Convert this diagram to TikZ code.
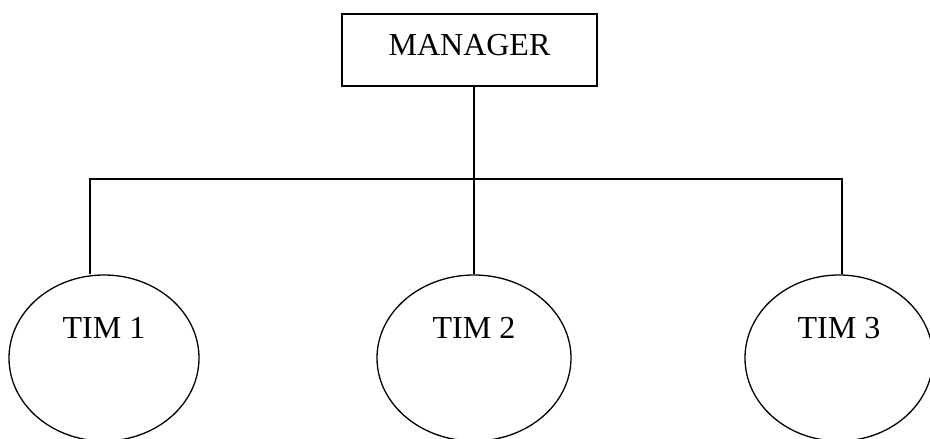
\documentclass[tikz,border=0pt]{standalone}
\usepackage{fontspec}
\setmainfont{Liberation Serif}
\usetikzlibrary{shapes.geometric}
\begin{document}
\begin{tikzpicture}[x=1pt,y=-1pt,
  line width=1.3pt,
  every node/.style={font=\fontsize{32}{36}\selectfont, inner sep=0pt},
  mgrbox/.style={draw, rectangle, minimum width=255pt, minimum height=72pt,
    text height=22pt, text depth=10pt},
  teambox/.style={draw, ellipse, minimum height=166pt,
    text height=22pt, text depth=62pt}]
\useasboundingbox (0,0) rectangle (930,439);
\node[mgrbox] (mgr) at (469.5,50) {MANAGER};
\node[teambox, minimum width=190pt] (t1) at (104,358) {TIM 1};
\node[teambox, minimum width=194pt] (t2) at (474,358) {TIM 2};
\node[teambox, minimum width=188pt] (t3) at (839,358) {TIM 3};
\coordinate (j) at (474,179);
\coordinate (jl) at (90,179);
\coordinate (jr) at (842,179);
\draw (mgr.south -| j) -- (j) -- (t2.north);
\draw (jl |- t1.north) -- (jl) -- (jr) -- (jr |- t3.north);
\end{tikzpicture}
\end{document}
